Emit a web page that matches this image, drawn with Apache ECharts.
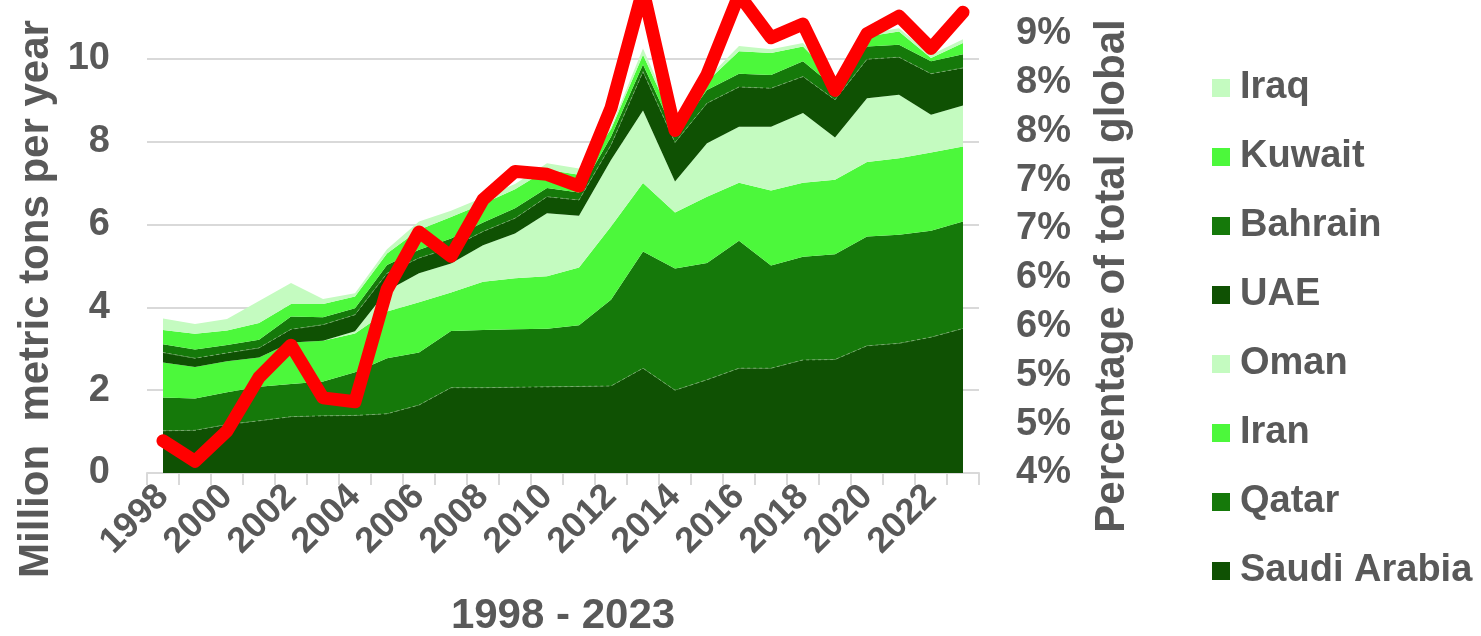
<!DOCTYPE html>
<html><head><meta charset="utf-8">
<script src="https://cdn.jsdelivr.net/npm/echarts@6/dist/echarts.min.js"></script>
<style>html,body{margin:0;padding:0;background:#fff}#c{width:1481px;height:636px}</style>
</head><body><div id="c"></div>
<script>
const years = ['1998','1999','2000','2001','2002','2003','2004','2005','2006','2007','2008','2009','2010','2011','2012','2013','2014','2015','2016','2017','2018','2019','2020','2021','2022','2023'];
const saudi   = [1.02,1.03,1.17,1.26,1.36,1.38,1.39,1.43,1.64,2.06,2.06,2.07,2.08,2.09,2.10,2.53,2.00,2.25,2.53,2.53,2.73,2.74,3.07,3.13,3.28,3.49];
const qatar   = [0.80,0.77,0.78,0.82,0.79,0.83,1.04,1.34,1.27,1.37,1.39,1.40,1.40,1.48,2.08,2.82,2.94,2.82,3.08,2.48,2.49,2.54,2.64,2.62,2.57,2.58];
const iran    = [0.85,0.76,0.75,0.71,1.00,0.98,0.94,1.13,1.21,0.93,1.17,1.23,1.27,1.39,1.77,1.65,1.35,1.60,1.40,1.81,1.79,1.80,1.80,1.85,1.89,1.81];
const oman    = [0,0,0,0,0,0,0.05,0.50,0.70,0.70,0.88,1.08,1.52,1.25,1.61,1.75,0.75,1.29,1.35,1.54,1.68,1.02,1.54,1.53,0.91,0.99];
const uae     = [0.24,0.21,0.20,0.23,0.32,0.39,0.40,0.42,0.37,0.38,0.33,0.37,0.40,0.38,0.36,0.94,0.94,0.97,0.96,0.93,0.88,0.91,0.94,0.91,0.99,0.91];
const bahrain = [0.20,0.21,0.19,0.20,0.31,0.18,0.16,0.20,0.20,0.22,0.22,0.24,0.21,0.18,0.20,0.17,0.19,0.32,0.32,0.32,0.37,0.29,0.31,0.30,0.30,0.33];
const kuwait  = [0.34,0.38,0.35,0.40,0.30,0.32,0.28,0.28,0.48,0.52,0.45,0.46,0.44,0.43,0.18,0.24,0.23,0.20,0.54,0.53,0.36,0.20,0.24,0.32,0.08,0.27];
const iraq    = [0.28,0.24,0.28,0.53,0.51,0.12,0.08,0.10,0.20,0.15,0.15,0.13,0.16,0.15,0.05,0.15,0.10,0.07,0.13,0.09,0.08,0.06,0.08,0.08,0.08,0.09];
const pctGlobal = [4.33,4.12,4.43,4.98,5.31,4.77,4.73,5.88,6.47,6.22,6.80,7.09,7.06,6.94,7.74,8.95,7.51,8.08,8.90,8.46,8.60,7.92,8.50,8.68,8.35,8.72];
const legendOrder = ['Iraq','Kuwait','Bahrain','UAE','Oman','Iran','Qatar','Saudi Arabia'];

const FONT = '"Liberation Sans", Arial, sans-serif';
const GREY = '#595959';
const DARK = '#0f5103', MED = '#15790a', BRIGHT = '#4cf83b', LIGHT = '#c4fbc0';

function area(name, data, color, boundary) {
  return {
    name: name, type: 'line', stack: 'total', data: data,
    showSymbol: false, symbol: 'none',
    itemStyle: { color: color },
    areaStyle: { color: color, opacity: 1 },
    lineStyle: boundary ? { width: 1, type: [3, 3], color: 'rgba(130,175,120,0.8)' } : { width: 0 },
    emphasis: { disabled: true }
  };
}

const chart = echarts.init(document.getElementById('c'), null, { renderer: 'canvas' });
chart.setOption({
  animation: false,
  backgroundColor: '#fff',
  grid: { left: 147, right: 1481 - 979, top: 0, bottom: 636 - 473 },
  xAxis: {
    type: 'category', data: years, boundaryGap: true,
    axisLine: { lineStyle: { color: '#d9d9d9', width: 2 } },
    axisTick: { show: true, interval: 0, length: 12, lineStyle: { color: '#d9d9d9', width: 2 } },
    axisLabel: { interval: 1, rotate: 45, margin: 18, color: GREY, fontFamily: FONT, fontWeight: 'bold', fontSize: 36 },
    splitLine: { show: false }
  },
  yAxis: [
    {
      type: 'value', min: 0, max: 11.42, interval: 2,
      axisLine: { show: false }, axisTick: { show: false },
      axisLabel: { showMaxLabel: false, margin: 37, color: GREY, fontFamily: FONT, fontWeight: 'bold', fontSize: 38 },
      splitLine: { show: true, showMaxLine: false, lineStyle: { color: '#d9d9d9', width: 2 } }
    },
    {
      type: 'value', position: 'right', min: 4, max: 8.846, interval: 0.5,
      axisLine: { show: false }, axisTick: { show: false },
      axisLabel: { showMaxLabel: false, margin: 37, align: 'left', color: GREY, fontFamily: FONT, fontWeight: 'bold', fontSize: 38,
        formatter: function (v) { return Math.round(v) + '%'; } },
      splitLine: { show: false }
    }
  ],
  legend: {
    orient: 'vertical', left: 1207, top: 63, itemWidth: 18, itemHeight: 18, itemGap: 29,
    icon: 'rect', data: legendOrder,
    textStyle: { color: GREY, fontFamily: FONT, fontWeight: 'bold', fontSize: 38, lineHeight: 40, padding: [0, 0, 0, 5] }
  },
  graphic: [
    { type: 'text', x: 36, y: 299, rotation: Math.PI / 2, silent: true,
      style: { text: 'Million  metric tons per year', fill: GREY, fontFamily: FONT, fontWeight: 'bold', fontSize: 42,
        align: 'center', verticalAlign: 'middle', textAlign: 'center', textVerticalAlign: 'middle' } },
    { type: 'text', x: 1112, y: 276, rotation: Math.PI / 2, silent: true,
      style: { text: 'Percentage of total global', fill: GREY, fontFamily: FONT, fontWeight: 'bold', fontSize: 42,
        align: 'center', verticalAlign: 'middle', textAlign: 'center', textVerticalAlign: 'middle' } },
    { type: 'text', x: 563, y: 616, silent: true,
      style: { text: '1998 - 2023', fill: GREY, fontFamily: FONT, fontWeight: 'bold', fontSize: 42,
        align: 'center', verticalAlign: 'middle', textAlign: 'center', textVerticalAlign: 'middle' } }
  ],
  series: [
    area('Saudi Arabia', saudi, DARK, true),
    area('Qatar', qatar, MED, false),
    area('Iran', iran, BRIGHT, false),
    area('Oman', oman, LIGHT, false),
    area('UAE', uae, DARK, true),
    area('Bahrain', bahrain, MED, false),
    area('Kuwait', kuwait, BRIGHT, false),
    area('Iraq', iraq, LIGHT, false),
    {
      name: 'Share of global', type: 'line', yAxisIndex: 1, data: pctGlobal,
      showSymbol: false, symbol: 'none', z: 10,
      lineStyle: { color: '#ff0000', width: 13, join: 'round', cap: 'round' },
      itemStyle: { color: '#ff0000' },
      emphasis: { disabled: true }
    }
  ]
});
</script>
</body></html>
